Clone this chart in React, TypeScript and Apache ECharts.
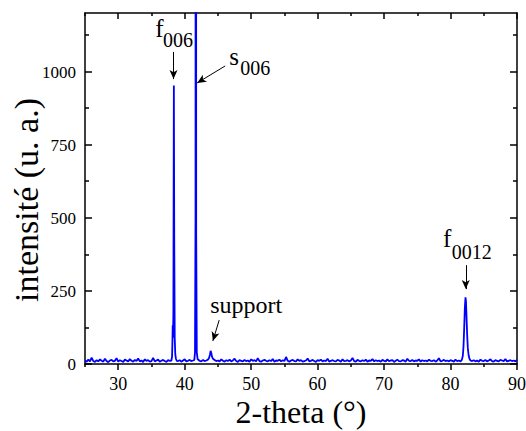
import React, { useEffect, useRef } from "react";
import * as echarts from "echarts";

// ---- data ----
const STEP = 0.25;

// background noise segments: start 2θ and intensities every STEP degrees
const bgAStart = 25;
const bgA = [12, 8, 15, 9, 22, 10, 7, 13, 9, 16, 11, 8, 18, 10, 6, 12, 14, 9, 11, 20, 8, 13, 10, 7, 15, 12, 9, 17, 11, 8, 14, 10, 19, 9, 12, 7, 16, 11, 13, 8, 10, 21, 9, 12, 15, 8, 11, 14, 10, 7, 13, 11];
const bgBStart = 39;
const bgB = [10, 13, 8, 12, 16, 9, 11, 14, 10, 12];
const bgCStart = 42.25;
const bgC = [11, 9, 14, 10, 12, 15];
const bgDStart = 44.5;
const bgD = [
  14, 10, 12, 9, 16, 11, 8, 13, 10, 15,
  9, 12, 18, 10, 7, 13, 11, 9, 14, 10,
  12, 8, 16, 11, 13, 9, 20, 10, 8, 12,
  14, 11, 9, 13, 10, 17, 8, 12, 11, 15,
  9, 13, 10, 24, 11, 8, 12, 14, 10, 9,
  16, 11, 13, 8, 10, 12, 19, 9, 11, 14,
  10, 7, 13, 11, 15, 9, 12, 10, 18, 8,
  11, 13, 10, 9, 14, 12, 8, 16, 10, 11,
  13, 9, 12, 21, 10, 8, 14, 11, 9, 13,
  10, 15, 8, 12, 11, 17, 9, 13, 10, 12,
  8, 14, 11, 9, 16, 10, 12, 13, 7, 11,
  15, 10, 9, 13, 12, 8, 18, 11, 10, 14,
  9, 12, 11, 16, 8, 13, 10, 12, 9, 15,
  11, 10, 13, 8, 12, 20, 9, 11, 14, 10,
  12, 9, 13, 11, 8, 15, 10, 12, 9,
];
const bgEStart = 83.25;
const bgE = [10, 13, 9, 12, 8, 15, 11, 10, 14, 9, 12, 16, 10, 8, 13, 11, 9, 14, 12, 10, 17, 9, 11, 13, 10, 12, 9, 14];

// peaks: [2θ, intensity]
const peakF006: [number, number][] = [
  [38.0, 12], [38.1, 25], [38.15, 70], [38.2, 132], [38.25, 90], [38.3, 180],
  [38.37, 952], [38.43, 420], [38.5, 90], [38.58, 35], [38.68, 18], [38.8, 11],
];
const peakS006: [number, number][] = [
  [41.45, 14], [41.55, 40], [41.63, 500], [41.68, 6000], [41.73, 450], [41.82, 40], [41.95, 16],
];
const peakSupport: [number, number][] = [
  [43.65, 20], [43.8, 32], [43.9, 45], [44.0, 38], [44.1, 26], [44.25, 18],
];
const peakF0012: [number, number][] = [
  [81.7, 14], [81.85, 28], [81.95, 60], [82.05, 120], [82.15, 190], [82.25, 228], [82.32, 215],
  [82.4, 165], [82.5, 100], [82.6, 55], [82.72, 30], [82.85, 18], [83.0, 12],
];

// axis ticks
const xMajor = [30, 40, 50, 60, 70, 80, 90];
const xMinor = [25, 35, 45, 55, 65, 75, 85];
const yMajor = [0, 250, 500, 750, 1000];
const yMinor = [125, 375, 625, 875, 1125];

const xTitle = "2-theta (°)";
const yTitle = "intensité (u. a.)";

// ---- build series data ----
const seg = (start: number, vals: number[]): [number, number][] =>
  vals.map((v, i) => [+(start + i * STEP).toFixed(2), v]);

const seriesData: [number, number][] = [
  ...seg(bgAStart, bgA),
  ...peakF006,
  ...seg(bgBStart, bgB),
  ...peakS006,
  ...seg(bgCStart, bgC),
  ...peakSupport,
  ...seg(bgDStart, bgD),
  ...peakF0012,
  ...seg(bgEStart, bgE),
];

const FF = "Liberation Serif";
const BLACK = "#000";

// annotation layout (data coords of text baseline-left)
const labels = [
  { text: "f", size: 25, at: [35.56, 1118] },
  { text: "006", size: 20, at: [36.72, 1084] },
  { text: "s", size: 25, at: [46.69, 1022] },
  { text: "006", size: 20, at: [48.35, 991] },
  { text: "support", size: 24, at: [43.83, 174] },
  { text: "f", size: 25, at: [78.87, 401] },
  { text: "0012", size: 20, at: [80.18, 362] },
];
const arrows = [
  [[38.32, 1067], [38.32, 974]],
  [[46.09, 1019], [41.88, 961]],
  [[45.19, 150], [44.24, 79]],
  [[82.29, 338], [82.29, 256]],
];

const gridBox = { left: 85, right: 9, top: 13, bottom: 67, outerBoundsMode: "none" };
const lineSt = { color: BLACK, width: 1.5 };

const xAx = (gridIndex: number, position: string, ticks: number[], len: number, inside: boolean) => ({
  type: "value",
  gridIndex,
  position,
  min: 25,
  max: 90,
  splitLine: { show: false },
  axisLine: { show: gridIndex === 0, onZero: false, lineStyle: lineSt },
  axisTick: { show: true, inside, length: len, customValues: ticks, lineStyle: lineSt },
  axisLabel: { show: false },
});
const yAx = (gridIndex: number, position: string, ticks: number[], len: number) => ({
  type: "value",
  gridIndex,
  position,
  min: 0,
  max: 1200,
  splitLine: { show: false },
  axisLine: { show: gridIndex === 0, onZero: false, lineStyle: lineSt },
  axisTick: { show: true, inside: true, length: len, customValues: ticks, lineStyle: lineSt },
  axisLabel: { show: false },
});

const txt = (text: string, x: number, y: number, size: number, align = "left", rotation = 0) => ({
  type: "text",
  x,
  y,
  rotation,
  style: { text, fontSize: size, fontFamily: FF, fill: BLACK, align, verticalAlign: "middle" },
});

export default function App() {
  const ref = useRef<HTMLDivElement>(null);
  useEffect(() => {
    if (!ref.current) return;
    const chart = echarts.init(ref.current, null, { renderer: "svg" });
    const option: any = {
      animation: false,
      backgroundColor: "#fff",
      grid: [{ ...gridBox }, { ...gridBox }],
      xAxis: [
        xAx(0, "bottom", xMajor, 6, false),
        xAx(0, "top", xMajor, 6, true),
        xAx(1, "bottom", xMinor, 3, false),
        xAx(1, "top", xMinor, 3, true),
      ],
      yAxis: [
        yAx(0, "left", yMajor, 7),
        yAx(0, "right", yMajor, 7),
        yAx(1, "left", yMinor, 4),
        yAx(1, "right", yMinor, 4),
      ],
      series: [
        {
          type: "line",
          xAxisIndex: 0,
          yAxisIndex: 0,
          data: seriesData,
          showSymbol: false,
          clip: true,
          lineStyle: { color: "#0000ff", width: 1.8 },
          markLine: {
            silent: true,
            symbol: ["none", "arrow"],
            symbolSize: [6, 9],
            label: { show: false },
            lineStyle: { color: BLACK, width: 1, type: "solid" },
            data: arrows.map(([a, b]) => [{ coord: a }, { coord: b }]),
          },
        },
      ],
    };
    chart.setOption(option);
    const px = (p: number[]) => chart.convertToPixel({ xAxisIndex: 0, yAxisIndex: 0 }, p) as number[];
    const graphic: any[] = [];
    // annotations
    labels.forEach((l) => {
      const p = px(l.at);
      graphic.push(txt(l.text, p[0], p[1] - 0.33 * l.size, l.size));
    });
    // x tick labels
    xMajor.forEach((v) => {
      const p = px([v, 0]);
      graphic.push(txt(String(v), p[0], p[1] + 20, 18, "center"));
    });
    // y tick labels
    yMajor.forEach((v) => {
      const p = px([25, v]);
      graphic.push(txt(String(v), p[0] - 9, p[1] + 0.5, 17, "right"));
    });
    // axis titles
    const o = px([25, 0]);
    const e = px([90, 1200]);
    graphic.push(txt(xTitle, (o[0] + e[0]) / 2, o[1] + 48, 32, "center"));
    graphic.push(txt(yTitle, o[0] - 59, (o[1] + e[1]) / 2 + 11.5, 34, "center", Math.PI / 2));
    chart.setOption({ graphic });
    return () => chart.dispose();
  }, []);
  return <div ref={ref} style={{ position: "absolute", left: 0, top: 0, width: 526, height: 431 }} />;
}
